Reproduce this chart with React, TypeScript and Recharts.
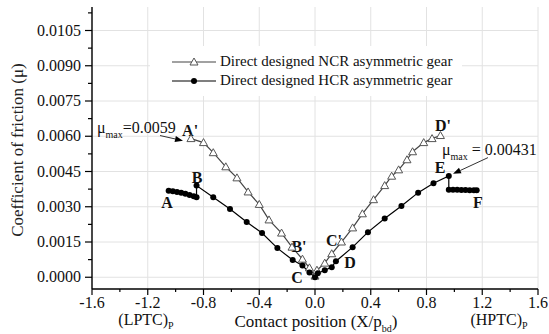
import React from 'react';
import {
  LineChart,
  Line,
  XAxis,
  YAxis,
  ReferenceLine,
  ReferenceDot,
  Legend,
} from 'recharts';

// NCR (open triangles)
const ncrX = [-0.89, -0.8, -0.73, -0.64, -0.56, -0.48, -0.4, -0.33, -0.24, -0.165, -0.09, -0.04, 0, 0.014, 0.07, 0.12, 0.19, 0.27, 0.34, 0.42, 0.5, 0.55, 0.6, 0.66, 0.7, 0.78, 0.84, 0.9];
const ncrY = [0.0059, 0.00573, 0.0053, 0.0047, 0.00423, 0.00363, 0.0031, 0.00244, 0.00188, 0.00128, 0.00077, 0.0004, 0.00005, 0.0003, 0.0006, 0.001, 0.0015, 0.0021, 0.0027, 0.0033, 0.0039, 0.0043, 0.00457, 0.005, 0.00534, 0.00573, 0.0059, 0.00603];

// HCR (filled circles)
const hcrX = [-1.05, -1.02, -0.99, -0.96, -0.93, -0.9, -0.87, -0.85, -0.85, -0.73, -0.61, -0.49, -0.38, -0.27, -0.16, -0.09, -0.04, 0, 0.02, 0.07, 0.12, 0.15, 0.27, 0.38, 0.5, 0.62, 0.74, 0.85, 0.96, 0.96, 0.99, 1.02, 1.05, 1.08, 1.11, 1.14, 1.16];
const hcrY = [0.00368, 0.00366, 0.00363, 0.0036, 0.00355, 0.0035, 0.00345, 0.0034, 0.0039, 0.0034, 0.0029, 0.00235, 0.00188, 0.00124, 0.00073, 0.0005, 0.0002, 0, 0.00017, 0.0003, 0.00043, 0.00068, 0.00128, 0.00192, 0.0025, 0.00303, 0.0036, 0.004, 0.00431, 0.00372, 0.00372, 0.00372, 0.00371, 0.00371, 0.0037, 0.0037, 0.0037];

const xTicks = [-1.6, -1.4, -1.2, -1.0, -0.8, -0.6, -0.4, -0.2, 0, 0.2, 0.4, 0.6, 0.8, 1.0, 1.2, 1.4, 1.6];
const xMajor = [-1.6, -1.2, -0.8, -0.4, 0, 0.4, 0.8, 1.2, 1.6];
const yTicks = [0, 0.00075, 0.0015, 0.00225, 0.003, 0.00375, 0.0045, 0.00525, 0.006, 0.00675, 0.0075, 0.00825, 0.009, 0.00975, 0.0105, 0.01125];
const yMajor = [0, 0.0015, 0.003, 0.0045, 0.006, 0.0075, 0.009, 0.0105];

// point labels: [text, x, y]
const pointLabels: [string, number, number][] = [
  ["A'", -0.896, 0.00624],
  ['B', -0.846, 0.00423],
  ['A', -1.062, 0.00316],
  ["B'", -0.115, 0.00128],
  ['C', -0.129, -0.00004],
  ["C'", 0.136, 0.00154],
  ['D', 0.251, 0.0006],
  ["D'", 0.918, 0.00645],
  ['E', 0.897, 0.00466],
  ['F', 1.169, 0.00316],
];

const ncrData = ncrX.map((x, i) => ({ x, y: ncrY[i] }));
const hcrData = hcrX.map((x, i) => ({ x, y: hcrY[i] }));

const FONT = '"Liberation Serif", serif';

const isMajor = (v: number, list: number[]) => list.some((m) => Math.abs(m - v) < 1e-9);

const XTick = (props: any) => {
  const { x, y, payload } = props;
  const major = isMajor(payload.value, xMajor);
  return (
    <g>
      <line x1={x} x2={x} y1={y} y2={y + (major ? 6 : 3)} stroke="#000" strokeWidth={1.2} />
      {major && (
        <text x={x} y={y + 19} textAnchor="middle" style={{ fontFamily: FONT }} fontSize={16} fill="#111">
          {payload.value.toFixed(1)}
        </text>
      )}
    </g>
  );
};

const YTick = (props: any) => {
  const { x, y, payload } = props;
  const major = isMajor(payload.value, yMajor);
  return (
    <g>
      <line x1={x} x2={x - (major ? 7 : 4)} y1={y} y2={y} stroke="#000" strokeWidth={1.2} />
      {major && (
        <text x={x - 11} y={y + 5} textAnchor="end" style={{ fontFamily: FONT }} fontSize={16} fill="#111">
          {payload.value.toFixed(4)}
        </text>
      )}
    </g>
  );
};

const Triangle = (props: any) => {
  const { cx, cy } = props;
  if (cx == null || cy == null) return null;
  return (
    <polygon
      points={`${cx},${cy - 4} ${cx - 4},${cy + 3} ${cx + 4},${cy + 3}`}
      fill="#fff"
      stroke="#555"
      strokeWidth={1}
    />
  );
};

const Circle = (props: any) => {
  const { cx, cy } = props;
  if (cx == null || cy == null) return null;
  return <circle cx={cx} cy={cy} r={3} fill="#000" />;
};

const Arrow = (props: any) => {
  const { x1, y1, x2, y2 } = props;
  const ang = Math.atan2(y2 - y1, x2 - x1);
  const len = 8;
  const w = 3;
  const bx = x2 - len * Math.cos(ang);
  const by = y2 - len * Math.sin(ang);
  const px = -Math.sin(ang) * w;
  const py = Math.cos(ang) * w;
  return (
    <g>
      <line x1={x1} y1={y1} x2={bx} y2={by} stroke="#333" strokeWidth={1} />
      <polygon points={`${x2},${y2} ${bx + px},${by + py} ${bx - px},${by - py}`} fill="#000" />
    </g>
  );
};

const MuLabel = (text: string) => (props: any) => {
  const { cx, cy } = props;
  return (
    <text x={cx} y={cy + 5} textAnchor="start" style={{ fontFamily: FONT }} fontSize={16} fill="#111">
      μ
      <tspan fontSize={10} dy={5}>max</tspan>
      <tspan dy={-5}>{text}</tspan>
    </text>
  );
};

const LetterLabel = (text: string) => (props: any) => {
  const { cx, cy } = props;
  return (
    <text x={cx} y={cy + 5} textAnchor="middle" style={{ fontFamily: FONT }} fontSize={16} fontWeight="bold" fill="#111">
      {text}
    </text>
  );
};

const LegendContent = () => (
  <div style={{ fontFamily: FONT, fontSize: 15, color: '#111', background: '#fff', padding: '6px 0 6px 20px', lineHeight: '19px' }}>
    <div style={{ display: 'flex', alignItems: 'center' }}>
      <svg width={48} height={12}>
        <line x1={2} x2={46} y1={6} y2={6} stroke="#444" strokeWidth={1.2} />
        <polygon points="24,2 20,9 28,9" fill="#fff" stroke="#555" />
      </svg>
      <span style={{ marginLeft: 2 }}>Direct designed NCR asymmetric gear</span>
    </div>
    <div style={{ display: 'flex', alignItems: 'center' }}>
      <svg width={48} height={12}>
        <line x1={2} x2={46} y1={6} y2={6} stroke="#000" strokeWidth={1.2} />
        <circle cx={24} cy={6} r={3} fill="#000" />
      </svg>
      <span style={{ marginLeft: 2 }}>Direct designed HCR asymmetric gear</span>
    </div>
  </div>
);

export default function App() {
  return (
    <div style={{ position: 'absolute', left: 0, top: 0, width: 549, height: 334, background: '#fff', fontFamily: FONT }}>
      <LineChart width={549} height={334} margin={{ top: 7, right: 11, left: 0, bottom: 0 }}>
        {xMajor.map((v) => (
          <ReferenceLine key={'gx' + v} x={v} stroke="#e2e2e2" strokeWidth={1} />
        ))}
        {yMajor.map((v) => (
          <ReferenceLine key={'gy' + v} y={v} stroke="#e2e2e2" strokeWidth={1} />
        ))}
        <XAxis
          dataKey="x"
          type="number"
          domain={[-1.6, 1.6]}
          ticks={xTicks}
          interval={0}
          tick={<XTick />}
          tickLine={false}
          tickSize={0}
          tickMargin={0}
          height={45}
          axisLine={{ stroke: '#000', strokeWidth: 1.4 }}
          allowDataOverflow
        />
        <YAxis
          dataKey="y"
          type="number"
          domain={[-0.0005, 0.0115]}
          ticks={yTicks}
          interval={0}
          tick={<YTick />}
          tickLine={false}
          tickSize={0}
          tickMargin={0}
          width={92}
          axisLine={{ stroke: '#000', strokeWidth: 1.4 }}
          allowDataOverflow
        />
        <XAxis xAxisId="top" orientation="top" type="number" domain={[-1.6, 1.6]} tick={false} tickLine={false} height={0} axisLine={{ stroke: '#000', strokeWidth: 1.4 }} />
        <YAxis yAxisId="right" orientation="right" type="number" domain={[-0.0005, 0.0115]} tick={false} tickLine={false} width={0} axisLine={{ stroke: '#000', strokeWidth: 1.4 }} />
        <Legend
          layout="horizontal"
          verticalAlign="middle"
          align="center"
          content={<LegendContent />}
          wrapperStyle={{ position: 'absolute', top: 46, left: 150, width: 312, height: 'auto' }}
        />
        <Line
          data={ncrData}
          dataKey="y"
          type="linear"
          stroke="#444"
          strokeWidth={1.2}
          dot={<Triangle />}
          activeDot={false}
          isAnimationActive={false}
          legendType="none"
        />
        <Line
          data={hcrData}
          dataKey="y"
          type="linear"
          stroke="#000"
          strokeWidth={1.2}
          dot={<Circle />}
          activeDot={false}
          isAnimationActive={false}
          legendType="none"
        />
        <ReferenceLine segment={[{ x: -1.112, y: 0.00603 }, { x: -0.947, y: 0.00581 }]} shape={<Arrow />} />
        <ReferenceLine segment={[{ x: 1.241, y: 0.00509 }, { x: 0.99, y: 0.0044 }]} shape={<Arrow />} />
        <ReferenceDot x={-1.564} y={0.00637} r={0} shape={MuLabel('=0.0059')} />
        <ReferenceDot x={0.911} y={0.00543} r={0} shape={MuLabel(' = 0.00431')} />
        {pointLabels.map(([t, x, y]) => (
          <ReferenceDot key={t} x={x} y={y} r={0} shape={LetterLabel(t)} />
        ))}
      </LineChart>
      <div
        style={{
          position: 'absolute',
          left: 18,
          top: 150,
          transform: 'translate(-50%, -50%) rotate(-90deg)',
          whiteSpace: 'nowrap',
          fontFamily: FONT,
          fontSize: 17,
          color: '#222',
        }}
      >
        Coefficient of friction (μ)
      </div>
      <div style={{ position: 'absolute', left: 146, top: 321, transform: 'translate(-50%, -50%)', whiteSpace: 'nowrap', fontFamily: FONT, fontSize: 16, color: '#111' }}>
        (LPTC)<sub style={{ fontSize: 10 }}>P</sub>
      </div>
      <div style={{ position: 'absolute', left: 316, top: 323, transform: 'translate(-50%, -50%)', whiteSpace: 'nowrap', fontFamily: FONT, fontSize: 17, color: '#111' }}>
        Contact position (X/p<sub style={{ fontSize: 10 }}>bd</sub>)
      </div>
      <div style={{ position: 'absolute', left: 499, top: 321, transform: 'translate(-50%, -50%)', whiteSpace: 'nowrap', fontFamily: FONT, fontSize: 16, color: '#111' }}>
        (HPTC)<sub style={{ fontSize: 10 }}>P</sub>
      </div>
    </div>
  );
}
